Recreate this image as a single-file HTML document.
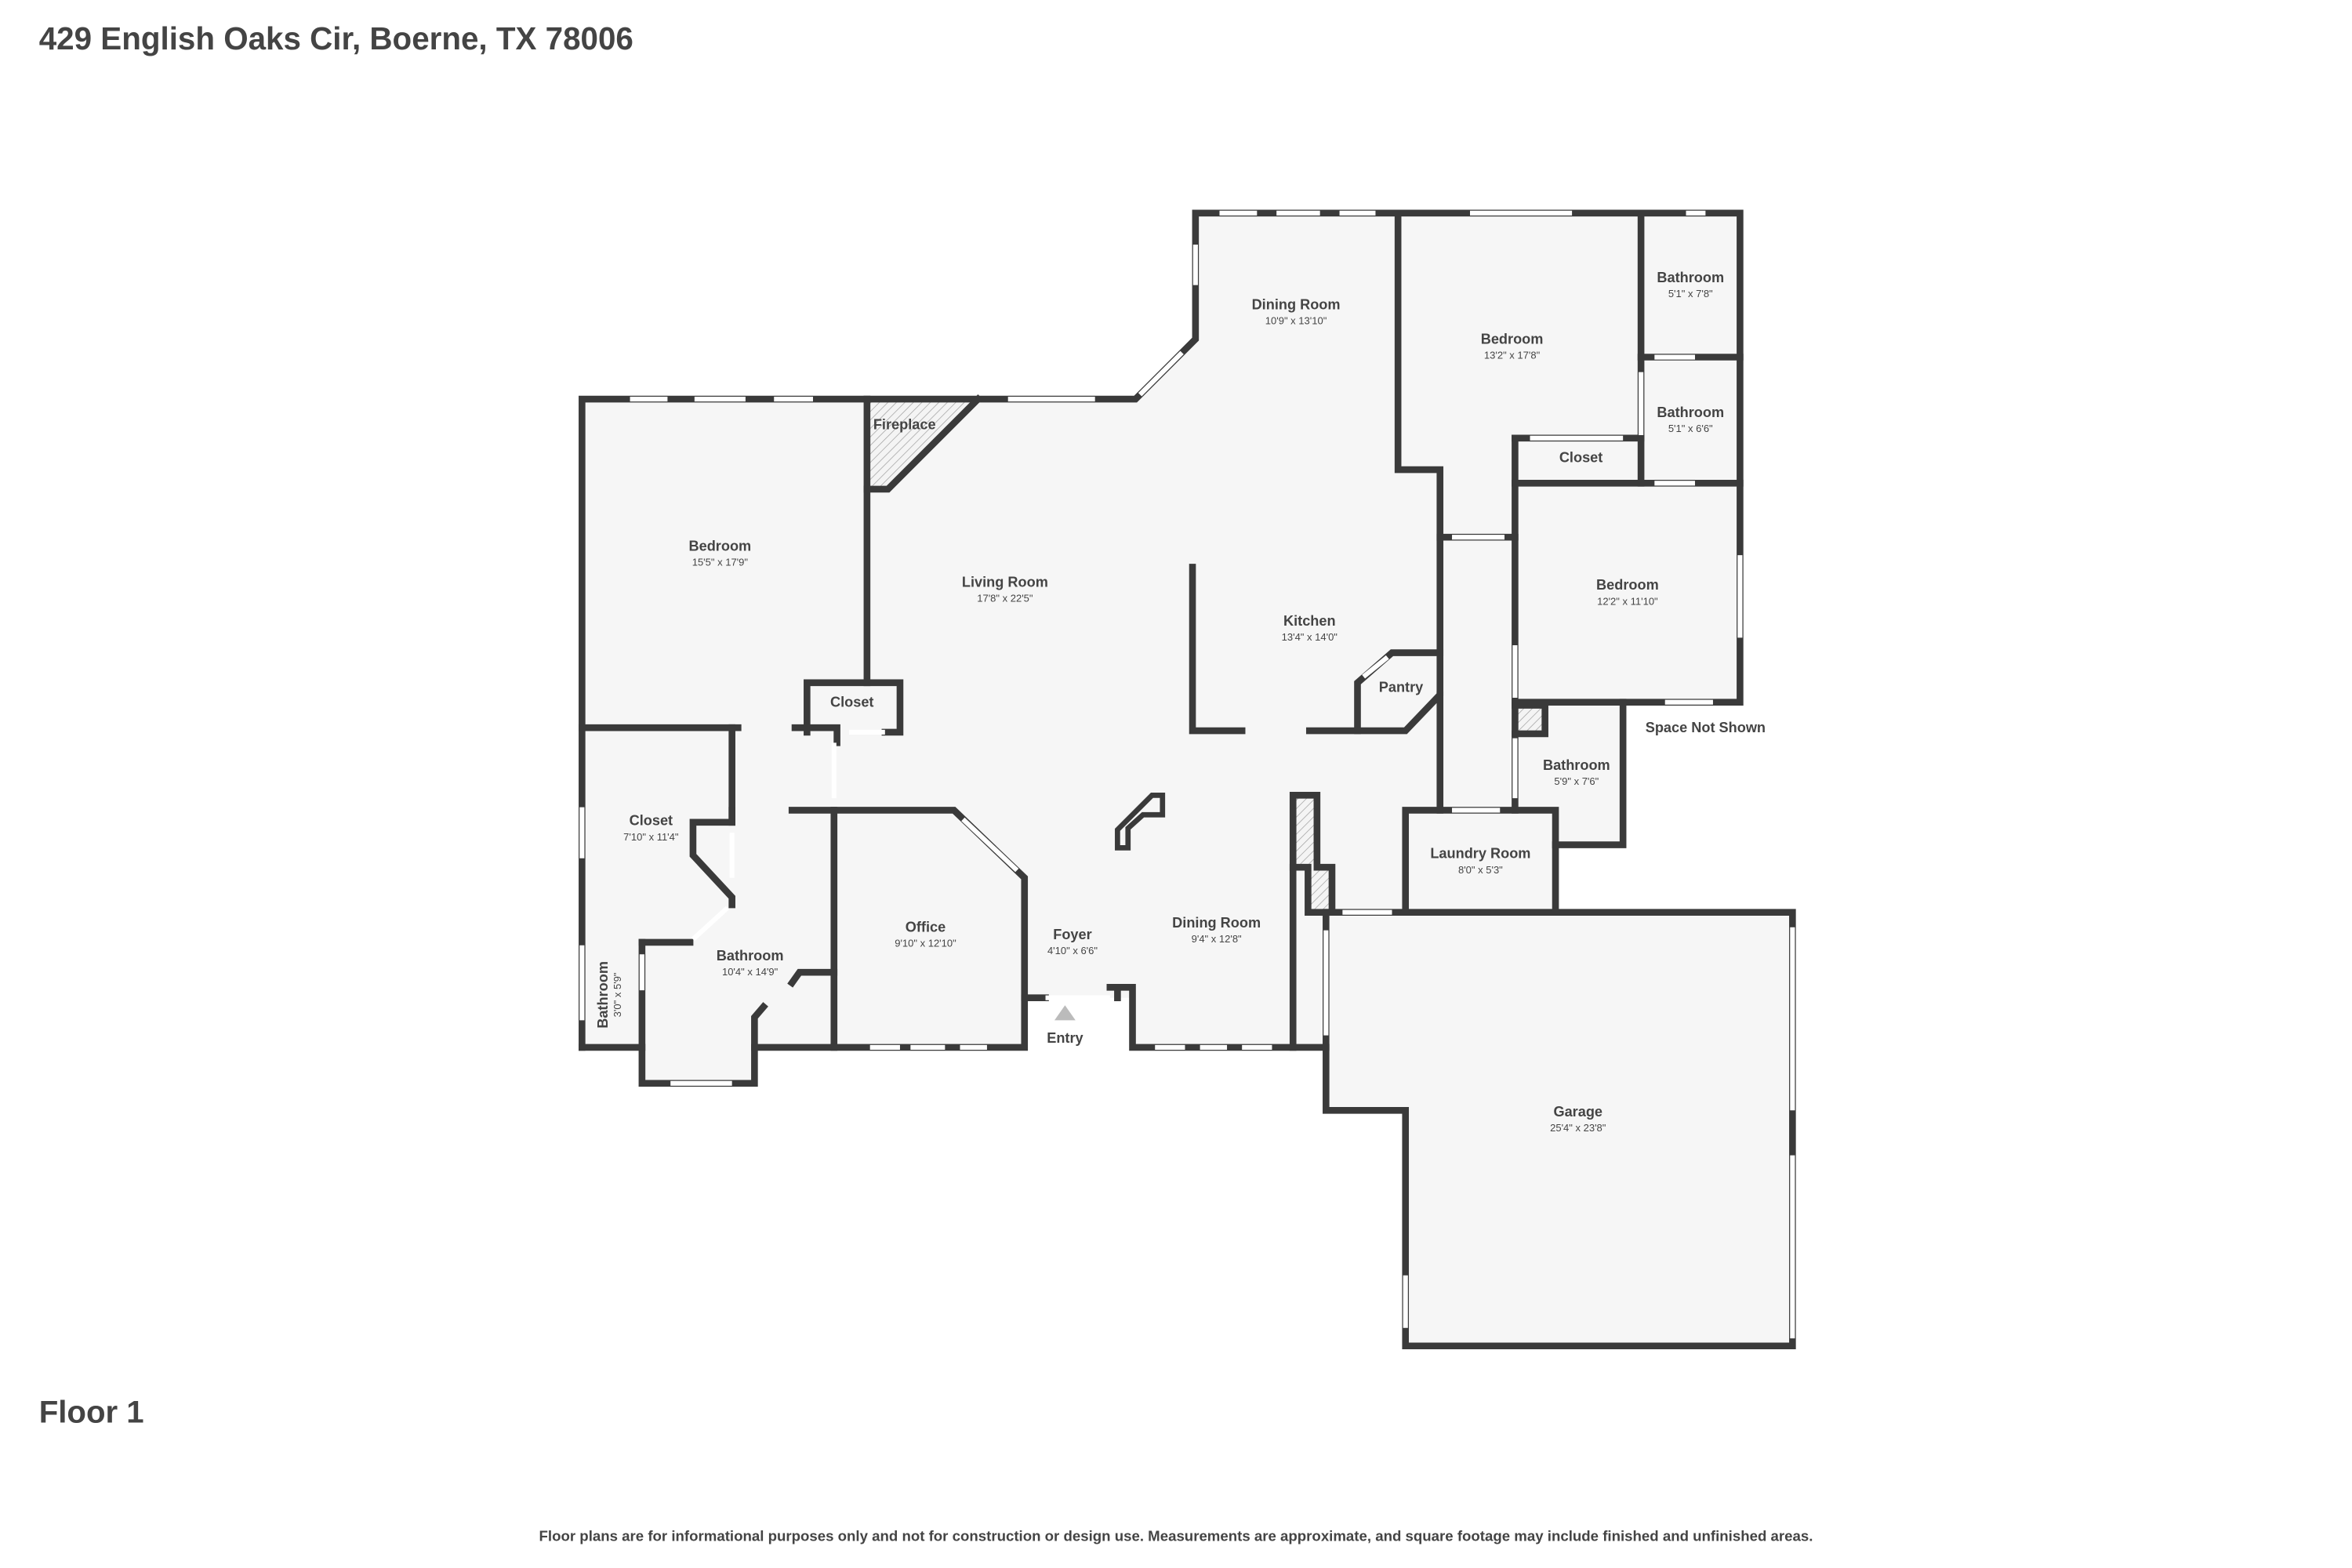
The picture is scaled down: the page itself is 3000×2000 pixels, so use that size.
<!DOCTYPE html>
<html><head><meta charset="utf-8"><style>
html,body{margin:0;padding:0;background:#fff;}
svg{display:block;}
.n{font-family:"Liberation Sans",sans-serif;font-weight:bold;fill:#444;font-size:9.5px;text-anchor:middle;}
.d{font-family:"Liberation Sans",sans-serif;fill:#444;font-size:6.8px;text-anchor:middle;}
</style></head><body>
<svg width="3000" height="2000" viewBox="0 0 1568 1045" preserveAspectRatio="none" xmlns="http://www.w3.org/2000/svg">
<defs>
<pattern id="h" width="4" height="4" patternUnits="userSpaceOnUse" patternTransform="rotate(-45)">
<rect width="4" height="4" fill="#f4f4f4"/><line x1="0" y1="0" x2="4" y2="0" stroke="#999" stroke-width="0.7"/></pattern>
</defs>
<rect width="1568" height="1045" fill="#fff"/>
<text x="26" y="33" font-family="Liberation Sans,sans-serif" font-weight="bold" font-size="21.1" fill="#444">429 English Oaks Cir, Boerne, TX 78006</text>
<text x="26" y="948" font-family="Liberation Sans,sans-serif" font-weight="bold" font-size="21" fill="#444">Floor 1</text>
<text x="784" y="1027" font-family="Liberation Sans,sans-serif" font-weight="bold" font-size="9.75" fill="#444" text-anchor="middle">Floor plans are for informational purposes only and not for construction or design use. Measurements are approximate, and square footage may include finished and unfinished areas.</text>

<polygon fill="#f6f6f6" points="388,266 757,266 797,226 797,142 1160,142 1160,468 1082,468 1082,563 1037,563 1037,608 1195,608 1195,897 937,897 937,740 884,740 884,698 755,698 755,665 683,665 683,698 503,698 503,722 428,722 428,698 388,698"/>
<polygon fill="url(#h)" points="580,268 650,268 592,326 580,326"/>
<rect x="864" y="532" width="12" height="44" fill="url(#h)"/>
<rect x="874" y="580" width="12" height="26" fill="url(#h)"/>
<rect x="1012" y="470" width="18" height="19" fill="url(#h)"/>

<g fill="none" stroke="#3a3a3a" stroke-width="4.5" stroke-linejoin="miter" stroke-linecap="square">
<polyline points="388,698 388,266 757,266 797,226 797,142 1160,142 1160,468 1010,468"/>
<polyline points="428,698 388,698"/>
<polyline points="428,628 428,722 503,722 503,678 509,671"/>
<polyline points="503,698 683,698 683,585 636,540 556,540"/>
<polyline points="683,665 697,665"/>
<polyline points="740,658 755,658 755,698 884,698"/>
<polyline points="745,665 745,658"/>
<polyline points="578,266 578,455"/>
<polyline points="652,266 592,326 578,326"/>
<polyline points="538,488 538,455 600,455 600,488 590,488"/>
<polyline points="530,485 558,485 558,495"/>
<polyline points="388,485 492,485"/>
<polyline points="488,485 488,548 462,548 462,570 488,598 488,603"/>
<polyline points="488,540 488,548"/>
<polyline points="528,540 556,540 556,698"/>
<polyline points="428,628 460,628"/>
<polyline points="528,655 533,648 556,648"/>
<polyline points="795,378 795,487 828,487"/>
<polyline points="873,487 937,487 960,463 960,313 932,313 932,142"/>
<polyline points="905,487 905,455 928,435 960,435"/>
<polyline points="960,358 1010,358"/>
<polyline points="960,463 960,540"/>
<polyline points="1094,142 1094,322"/>
<polyline points="1094,238 1160,238"/>
<polyline points="1010,292 1094,292"/>
<polyline points="1010,292 1010,540"/>
<polyline points="1010,322 1160,322"/>
<polyline points="1010,470 1030,470 1030,489 1010,489"/>
<polyline points="1082,468 1082,563 1037,563"/>
<polyline points="937,606 937,540 1037,540 1037,606"/>
<polyline points="884,608 1195,608 1195,897 937,897 937,740 884,740 884,608"/>
<polyline points="862,698 862,530 878,530 878,578 888,578 888,608"/>
<polyline points="862,578 872,578 872,608 884,608"/>
<polygon points="745,565 752,565 752,552 762,543 775,543 775,530 768,530 745,553" stroke-width="3.5"/>
</g>

<g stroke="#fff" stroke-width="3.2" stroke-linecap="butt">
<line x1="420" y1="266" x2="445" y2="266"/><line x1="463" y1="266" x2="497" y2="266"/><line x1="516" y1="266" x2="542" y2="266"/><line x1="672" y1="266" x2="730" y2="266"/>
<line x1="760" y1="263" x2="788" y2="235"/>
<line x1="797" y1="163" x2="797" y2="190"/>
<line x1="813" y1="142" x2="838" y2="142"/><line x1="851" y1="142" x2="880" y2="142"/><line x1="893" y1="142" x2="917" y2="142"/><line x1="980" y1="142" x2="1048" y2="142"/><line x1="1124" y1="142" x2="1137" y2="142"/>
<line x1="1160" y1="370" x2="1160" y2="425"/>
<line x1="1110" y1="468" x2="1142" y2="468"/>
<line x1="388" y1="538" x2="388" y2="572"/><line x1="388" y1="630" x2="388" y2="680"/>
<line x1="447" y1="722" x2="488" y2="722"/>
<line x1="580" y1="698" x2="600" y2="698"/><line x1="607" y1="698" x2="630" y2="698"/><line x1="640" y1="698" x2="658" y2="698"/>
<line x1="770" y1="698" x2="790" y2="698"/><line x1="800" y1="698" x2="818" y2="698"/><line x1="828" y1="698" x2="848" y2="698"/>
<line x1="642" y1="546" x2="678" y2="580"/>
<line x1="697" y1="665" x2="740" y2="665"/>
<line x1="566" y1="488" x2="590" y2="488"/>
<line x1="556" y1="495" x2="556" y2="532"/>
<line x1="488" y1="555" x2="488" y2="585"/>
<line x1="485" y1="605" x2="462" y2="626"/>
<line x1="428" y1="636" x2="428" y2="660"/>
<line x1="909" y1="451" x2="925" y2="438"/>
<line x1="968" y1="358" x2="1003" y2="358"/>
<line x1="1094" y1="248" x2="1094" y2="290"/>
<line x1="1103" y1="238" x2="1130" y2="238"/>
<line x1="1020" y1="292" x2="1082" y2="292"/>
<line x1="1103" y1="322" x2="1130" y2="322"/>
<line x1="1010" y1="430" x2="1010" y2="465"/>
<line x1="1010" y1="492" x2="1010" y2="532"/>
<line x1="968" y1="540" x2="1000" y2="540"/>
<line x1="895" y1="608" x2="928" y2="608"/>
<line x1="884" y1="620" x2="884" y2="690"/>
<line x1="1195" y1="618" x2="1195" y2="740"/><line x1="1195" y1="770" x2="1195" y2="892"/>
<line x1="937" y1="850" x2="937" y2="885"/>
</g>

<polygon points="703,680 717,680 710,670" fill="#bbb"/>

<text class="n" x="603" y="286">Fireplace</text>
<text class="n" x="480" y="367">Bedroom</text><text class="d" x="480" y="377">15'5" x 17'9"</text>
<text class="n" x="670" y="391">Living Room</text><text class="d" x="670" y="401">17'8" x 22'5"</text>
<text class="n" x="864" y="206">Dining Room</text><text class="d" x="864" y="216">10'9" x 13'10"</text>
<text class="n" x="1008" y="229">Bedroom</text><text class="d" x="1008" y="239">13'2" x 17'8"</text>
<text class="n" x="1127" y="188">Bathroom</text><text class="d" x="1127" y="198">5'1" x 7'8"</text>
<text class="n" x="1127" y="278">Bathroom</text><text class="d" x="1127" y="288">5'1" x 6'6"</text>
<text class="n" x="1054" y="308">Closet</text>
<text class="n" x="1085" y="393">Bedroom</text><text class="d" x="1085" y="403">12'2" x 11'10"</text>
<text class="n" x="873" y="417">Kitchen</text><text class="d" x="873" y="427">13'4" x 14'0"</text>
<text class="n" x="934" y="461">Pantry</text>
<text class="n" x="568" y="471">Closet</text>
<text class="n" x="1137" y="488">Space Not Shown</text>
<text class="n" x="1051" y="513">Bathroom</text><text class="d" x="1051" y="523">5'9" x 7'6"</text>
<text class="n" x="434" y="550">Closet</text><text class="d" x="434" y="560">7'10" x 11'4"</text>
<text class="n" x="987" y="572">Laundry Room</text><text class="d" x="987" y="582">8'0" x 5'3"</text>
<text class="n" x="617" y="621">Office</text><text class="d" x="617" y="631">9'10" x 12'10"</text>
<text class="n" x="715" y="626">Foyer</text><text class="d" x="715" y="636">4'10" x 6'6"</text>
<text class="n" x="811" y="618">Dining Room</text><text class="d" x="811" y="628">9'4" x 12'8"</text>
<text class="n" x="500" y="640">Bathroom</text><text class="d" x="500" y="650">10'4" x 14'9"</text>
<text class="n" transform="translate(405,663) rotate(-90)">Bathroom</text>
<text class="d" transform="translate(414,663) rotate(-90)">3'0" x 5'9"</text>
<text class="n" x="710" y="695">Entry</text>
<text class="n" x="1052" y="744">Garage</text><text class="d" x="1052" y="754">25'4" x 23'8"</text>
</svg>
</body></html>
